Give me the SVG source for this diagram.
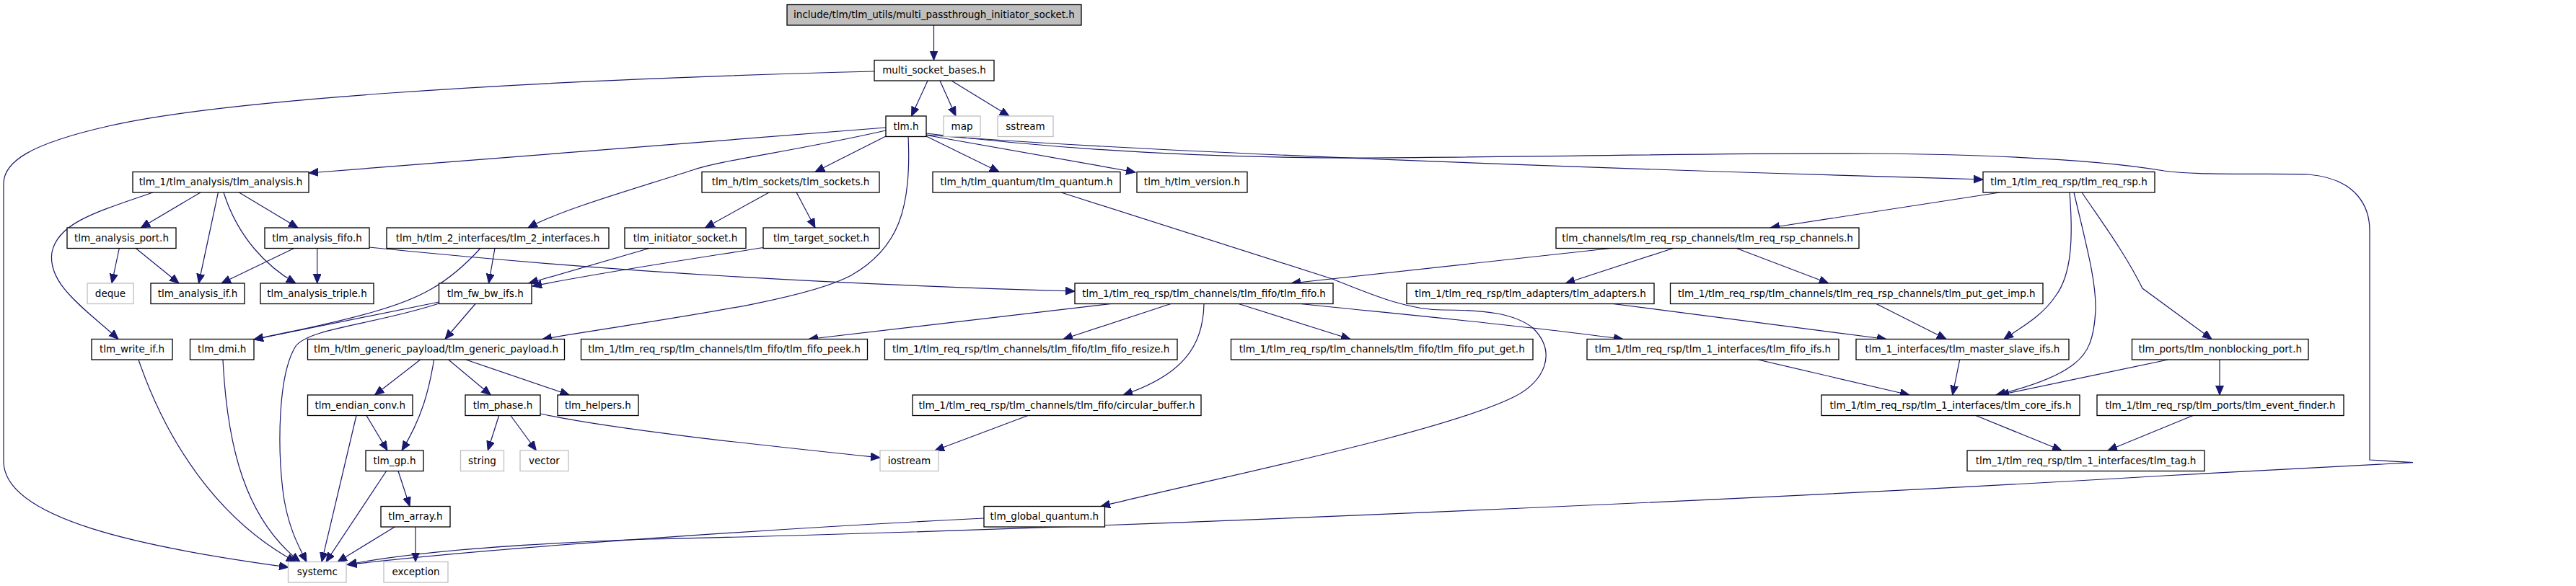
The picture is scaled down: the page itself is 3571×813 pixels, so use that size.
<svg xmlns="http://www.w3.org/2000/svg" width="3571" height="813" viewBox="0 0 3571 813">
<style>
.n rect{fill:#ffffff;stroke:#000000;stroke-width:1.3}
.n.s rect{stroke:#bfbfbf}
.n.top rect{fill:#bfbfbf}
.n text{font-family:"DejaVu Sans",Verdana,sans-serif;font-size:13.5px;text-anchor:middle;fill:#000000}
#edges path{fill:none;stroke:#191970;stroke-width:1.2;marker-end:url(#a)}
</style>
<defs>
<marker id="a" markerUnits="userSpaceOnUse" markerWidth="14" markerHeight="12" refX="13" refY="5.5" orient="auto">
<path d="M0,0 L13,5.5 L0,11 z" fill="#191970" stroke="#191970" stroke-width="1"/>
</marker>
</defs>
<rect x="0" y="0" width="3571" height="813" fill="#ffffff"/>
<g id="edges">
<path d="M1294.5,35 L1294.5,83.5"/>
<path d="M1286,112 L1263.5,161"/>
<path d="M1303,112 L1325,161"/>
<path d="M1319,112 L1399,161"/>
<path d="M1212,99 C700,112 300,140 150,175 C40,200 5,225 5,255 L5,640 C5,720 200,760 400,787"/>
<path d="M1228,177 L428,240"/>
<path d="M1228,181 C1100,210 1000,222 960,236 C880,262 780,290 732,316"/>
<path d="M1228,189 L1130,238.5"/>
<path d="M1259,189 C1264,290 1245,345 1180,382 C1110,420 900,445 752,470.5"/>
<path d="M1283.5,188.7 L1385,238.5"/>
<path d="M1284,187.5 L1574,239"/>
<path d="M1284,187 C1500,205 2000,228 2749,249"/>
<path d="M1284,185 C1450,205 1650,220 1900,219 C2200,217 2400,212 2600,213 C2800,215 2930,225 3000,237 C3050,244 3150,240 3200,242 C3270,248 3285,290 3285,320 L3285,638 L3345,641.7 L3000,660 C2500,690 1500,735 900,748 C700,755 560,768 481.5,783.3"/>
<path d="M212,267 C130,295 80,310 72,350 C65,395 120,430 164,470.5"/>
<path d="M278.4,266.7 L195.2,316"/>
<path d="M302.5,266.7 L275.5,393"/>
<path d="M310,267 C330,330 370,370 410,393"/>
<path d="M331,266.7 L413,316"/>
<path d="M165.3,344.5 L155,393"/>
<path d="M188.3,344.5 L248,393"/>
<path d="M407.6,344.5 L307,393"/>
<path d="M439.7,344.5 L439.7,393"/>
<path d="M511.5,343 C700,362 1000,390 1490,404"/>
<path d="M686,344.5 L677.5,393"/>
<path d="M666,344.5 C620,395 580,415 520,432 C450,452 400,460 352,471"/>
<path d="M900,344.5 L733,393"/>
<path d="M1058,343.5 C1000,353 850,375 738,397"/>
<path d="M1066.5,266.7 L977.5,316"/>
<path d="M1104,266.7 L1130,316"/>
<path d="M1471,267 L1847,387 C1900,408 1950,430 2000,430 C2060,430 2100,435 2125,455 C2160,490 2140,530 2100,550 C2000,600 1700,660 1526,702.5"/>
<path d="M2772,267 L2454,316"/>
<path d="M2869,267 C2874,330 2872,380 2850,410 C2830,440 2800,455 2778,470.5"/>
<path d="M2875,267 C2892,340 2906,390 2905,430 C2903,470 2895,490 2875,505 C2850,525 2800,540 2767,548"/>
<path d="M2886,267 C2915,310 2945,350 2970,400 L3066,470.5"/>
<path d="M2233,344.5 L1790,393"/>
<path d="M2319.5,344.5 L2170.3,393"/>
<path d="M2407.3,344.5 L2534.8,393"/>
<path d="M1540,421.5 L1121,470.5"/>
<path d="M1623,421.5 L1474,470.5"/>
<path d="M1669,421.5 C1668,480 1640,520 1557,548"/>
<path d="M1717,421.5 L1872,470.5"/>
<path d="M1803,421.5 C1900,432 2100,450 2250,470.5"/>
<path d="M2236.3,421.5 L2615,470.5"/>
<path d="M2601,421.5 L2698,470.5"/>
<path d="M2437,499 L2647,548"/>
<path d="M2716.7,499 L2706.7,548"/>
<path d="M3005.6,499 L2772,548"/>
<path d="M3077,499 L3077,548"/>
<path d="M2739,576.5 L2858,625"/>
<path d="M3040,576.5 L2922,625"/>
<path d="M1425,576.5 L1296,625"/>
<path d="M749,574 C850,596 1050,617 1220,635"/>
<path d="M582.7,499 L519.5,548"/>
<path d="M601.6,499 C595,540 585,580 557,625"/>
<path d="M621.7,499 L680.3,548"/>
<path d="M645.8,499 L789.3,548"/>
<path d="M659,421.5 L617,470.5"/>
<path d="M608.5,419 L352,471"/>
<path d="M608.5,421 C520,450 430,455 410,480 C385,520 385,620 392,680 C398,730 415,760 425,779.5"/>
<path d="M508,576.5 L537,625"/>
<path d="M494,576.5 L446,779.5"/>
<path d="M691.7,576.5 L676.2,625"/>
<path d="M707.8,576.5 L743.4,625"/>
<path d="M535.6,653.5 L452,779.5"/>
<path d="M552,653.5 L568,702.5"/>
<path d="M548,730.5 L468,779.5"/>
<path d="M576,730.5 L576,779.5"/>
<path d="M192,499 C230,610 300,720 410,779.5"/>
<path d="M309,499 C315,620 340,720 416,779.5"/>
<path d="M1364,719 C1100,732 700,758 481.5,783.5"/>
</g>
<g id="n0" class="n top"><rect x="1091" y="6.5" width="408" height="28.5"/><text x="1295" y="25">include/tlm/tlm_utils/multi_passthrough_initiator_socket.h</text></g>
<g id="n1" class="n"><rect x="1212" y="83.5" width="166" height="28.5"/><text x="1295" y="102">multi_socket_bases.h</text></g>
<g id="n2" class="n"><rect x="1228" y="161" width="56" height="28.5"/><text x="1256" y="179.5">tlm.h</text></g>
<g id="n3" class="n s"><rect x="1308" y="161" width="51" height="28.5"/><text x="1333.5" y="179.5">map</text></g>
<g id="n4" class="n s"><rect x="1383" y="161" width="77" height="28.5"/><text x="1421.5" y="179.5">sstream</text></g>
<g id="n5" class="n"><rect x="184" y="238.5" width="244" height="28.5"/><text x="306" y="257">tlm_1/tlm_analysis/tlm_analysis.h</text></g>
<g id="n6" class="n"><rect x="973" y="238.5" width="246" height="28.5"/><text x="1096" y="257">tlm_h/tlm_sockets/tlm_sockets.h</text></g>
<g id="n7" class="n"><rect x="1293" y="238.5" width="260" height="28.5"/><text x="1423" y="257">tlm_h/tlm_quantum/tlm_quantum.h</text></g>
<g id="n8" class="n"><rect x="1576" y="238.5" width="153" height="28.5"/><text x="1652.5" y="257">tlm_h/tlm_version.h</text></g>
<g id="n9" class="n"><rect x="2749" y="238.5" width="238" height="28.5"/><text x="2868" y="257">tlm_1/tlm_req_rsp/tlm_req_rsp.h</text></g>
<g id="n10" class="n"><rect x="93" y="316" width="151" height="28.5"/><text x="168.5" y="334.5">tlm_analysis_port.h</text></g>
<g id="n11" class="n"><rect x="367" y="316" width="145" height="28.5"/><text x="439.5" y="334.5">tlm_analysis_fifo.h</text></g>
<g id="n12" class="n"><rect x="536" y="316" width="308" height="28.5"/><text x="690" y="334.5">tlm_h/tlm_2_interfaces/tlm_2_interfaces.h</text></g>
<g id="n13" class="n"><rect x="866" y="316" width="168" height="28.5"/><text x="950" y="334.5">tlm_initiator_socket.h</text></g>
<g id="n14" class="n"><rect x="1058" y="316" width="161" height="28.5"/><text x="1138.5" y="334.5">tlm_target_socket.h</text></g>
<g id="n15" class="n"><rect x="2157" y="316" width="420" height="28.5"/><text x="2367" y="334.5">tlm_channels/tlm_req_rsp_channels/tlm_req_rsp_channels.h</text></g>
<g id="n16" class="n s"><rect x="121" y="393" width="64" height="28.5"/><text x="153" y="411.5">deque</text></g>
<g id="n17" class="n"><rect x="209" y="393" width="130" height="28.5"/><text x="274" y="411.5">tlm_analysis_if.h</text></g>
<g id="n18" class="n"><rect x="361" y="393" width="157" height="28.5"/><text x="439.5" y="411.5">tlm_analysis_triple.h</text></g>
<g id="n19" class="n"><rect x="608.5" y="393" width="128.5" height="28.5"/><text x="672.75" y="411.5">tlm_fw_bw_ifs.h</text></g>
<g id="n20" class="n"><rect x="1490" y="393" width="358" height="28.5"/><text x="1669" y="411.5">tlm_1/tlm_req_rsp/tlm_channels/tlm_fifo/tlm_fifo.h</text></g>
<g id="n21" class="n"><rect x="1950" y="393" width="343" height="28.5"/><text x="2121.5" y="411.5">tlm_1/tlm_req_rsp/tlm_adapters/tlm_adapters.h</text></g>
<g id="n22" class="n"><rect x="2315.5" y="393" width="516.5" height="28.5"/><text x="2573.75" y="411.5">tlm_1/tlm_req_rsp/tlm_channels/tlm_req_rsp_channels/tlm_put_get_imp.h</text></g>
<g id="n23" class="n"><rect x="127" y="470.5" width="112" height="28.5"/><text x="183" y="489">tlm_write_if.h</text></g>
<g id="n24" class="n"><rect x="263.5" y="470.5" width="88.5" height="28.5"/><text x="307.75" y="489">tlm_dmi.h</text></g>
<g id="n25" class="n"><rect x="426.5" y="470.5" width="356" height="28.5"/><text x="604.5" y="489">tlm_h/tlm_generic_payload/tlm_generic_payload.h</text></g>
<g id="n26" class="n"><rect x="805.5" y="470.5" width="397" height="28.5"/><text x="1004" y="489">tlm_1/tlm_req_rsp/tlm_channels/tlm_fifo/tlm_fifo_peek.h</text></g>
<g id="n27" class="n"><rect x="1226.5" y="470.5" width="405.5" height="28.5"/><text x="1429.25" y="489">tlm_1/tlm_req_rsp/tlm_channels/tlm_fifo/tlm_fifo_resize.h</text></g>
<g id="n28" class="n"><rect x="1706.5" y="470.5" width="418.5" height="28.5"/><text x="1915.75" y="489">tlm_1/tlm_req_rsp/tlm_channels/tlm_fifo/tlm_fifo_put_get.h</text></g>
<g id="n29" class="n"><rect x="2200" y="470.5" width="349" height="28.5"/><text x="2374.5" y="489">tlm_1/tlm_req_rsp/tlm_1_interfaces/tlm_fifo_ifs.h</text></g>
<g id="n30" class="n"><rect x="2573" y="470.5" width="295" height="28.5"/><text x="2720.5" y="489">tlm_1_interfaces/tlm_master_slave_ifs.h</text></g>
<g id="n31" class="n"><rect x="2955.5" y="470.5" width="244.5" height="28.5"/><text x="3077.75" y="489">tlm_ports/tlm_nonblocking_port.h</text></g>
<g id="n32" class="n"><rect x="426.5" y="548" width="145.5" height="28.5"/><text x="499.25" y="566.5">tlm_endian_conv.h</text></g>
<g id="n33" class="n"><rect x="645" y="548" width="104" height="28.5"/><text x="697" y="566.5">tlm_phase.h</text></g>
<g id="n34" class="n"><rect x="773" y="548" width="112" height="28.5"/><text x="829" y="566.5">tlm_helpers.h</text></g>
<g id="n35" class="n"><rect x="1265" y="548" width="400" height="28.5"/><text x="1465" y="566.5">tlm_1/tlm_req_rsp/tlm_channels/tlm_fifo/circular_buffer.h</text></g>
<g id="n36" class="n"><rect x="2525" y="548" width="358" height="28.5"/><text x="2704" y="566.5">tlm_1/tlm_req_rsp/tlm_1_interfaces/tlm_core_ifs.h</text></g>
<g id="n37" class="n"><rect x="2907" y="548" width="342" height="28.5"/><text x="3078" y="566.5">tlm_1/tlm_req_rsp/tlm_ports/tlm_event_finder.h</text></g>
<g id="n38" class="n"><rect x="507" y="625" width="80" height="28.5"/><text x="547" y="643.5">tlm_gp.h</text></g>
<g id="n39" class="n s"><rect x="638.5" y="625" width="60" height="28.5"/><text x="668.5" y="643.5">string</text></g>
<g id="n40" class="n s"><rect x="721" y="625" width="67" height="28.5"/><text x="754.5" y="643.5">vector</text></g>
<g id="n41" class="n s"><rect x="1220" y="625" width="81" height="28.5"/><text x="1260.5" y="643.5">iostream</text></g>
<g id="n42" class="n"><rect x="2727" y="625" width="329" height="28.5"/><text x="2891.5" y="643.5">tlm_1/tlm_req_rsp/tlm_1_interfaces/tlm_tag.h</text></g>
<g id="n43" class="n"><rect x="528" y="702.5" width="96" height="28.5"/><text x="576" y="721">tlm_array.h</text></g>
<g id="n44" class="n"><rect x="1364" y="702.5" width="167.5" height="28.5"/><text x="1447.75" y="721">tlm_global_quantum.h</text></g>
<g id="n45" class="n s"><rect x="399.5" y="779.5" width="80.5" height="28.5"/><text x="439.75" y="798">systemc</text></g>
<g id="n46" class="n s"><rect x="532" y="779.5" width="89" height="28.5"/><text x="576.5" y="798">exception</text></g>
</svg>
